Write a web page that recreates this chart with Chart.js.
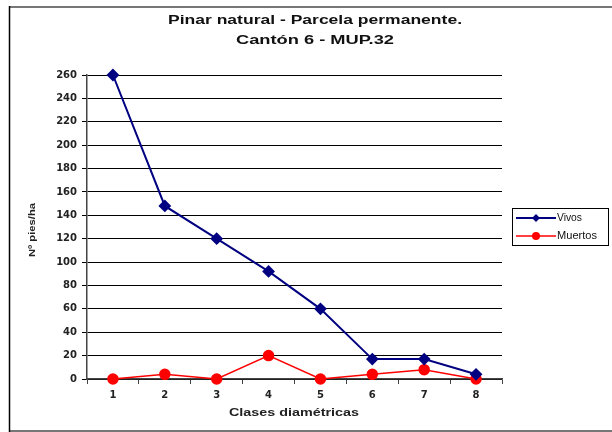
<!DOCTYPE html>
<html>
<head>
<meta charset="utf-8">
<script src="https://cdn.jsdelivr.net/npm/chart.js@4"></script>
<style>
  html, body { margin: 0; padding: 0; background: #fff; }
  #wrap { width: 612px; height: 432px; }
</style>
</head>
<body>
<div id="wrap"><canvas id="grafico" width="612" height="432"></canvas></div>
<script>
const clases = ["1", "2", "3", "4", "5", "6", "7", "8"];
const vivos = [260, 148, 120, 92, 60, 17, 17, 4];
const muertos = [0, 4, 0, 20, 0, 4, 8, 0];
const titulo = ["Pinar natural - Parcela permanente.", "Cantón 6 - MUP.32"];
const tituloX = "Clases diamétricas";
const tituloY = "Nº pies/ha";
const fuente = "'Liberation Sans', Arial, sans-serif";
const fuenteTicks = "'DejaVu Sans', Verdana, sans-serif";

// texto ensanchado como en el original
function texto(c, t, x, y, ancho, rot) {
  c.save();
  c.translate(x, y);
  if (rot) c.rotate(-Math.PI / 2);
  const w = c.measureText(t).width;
  c.scale(ancho / w, 1);
  c.fillText(t, 0, 0);
  c.restore();
}

// marco, titulos y leyenda
const extras = {
  id: "extras",
  afterDraw(chart) {
    const c = chart.ctx;
    c.save();
    // marco
    c.strokeStyle = "#777";
    c.lineWidth = 2;
    c.beginPath();
    c.moveTo(9, 7); c.lineTo(612, 7);
    c.moveTo(9, 431); c.lineTo(612, 431);
    c.stroke();
    c.strokeStyle = "#000";
    c.lineWidth = 1.5;
    c.beginPath();
    c.moveTo(9.5, 6); c.lineTo(9.5, 432);
    c.stroke();

    // titulo
    c.fillStyle = "#111";
    c.font = "bold 12px " + fuente;
    c.textAlign = "center";
    c.textBaseline = "middle";
    texto(c, titulo[0], 315, 21, 294);
    texto(c, titulo[1], 315, 41, 158);

    // titulos de ejes
    c.fillStyle = "#222";
    c.font = "bold 11px " + fuente;
    texto(c, tituloX, 294, 413, 130);
    c.font = "bold 9px " + fuente;
    texto(c, tituloY, 33, 230, 54, true);

    // leyenda
    c.strokeStyle = "#000";
    c.lineWidth = 1;
    c.strokeRect(512.5, 208.5, 96, 37);
    c.font = "10px " + fuente;
    c.textAlign = "left";
    chart.data.datasets.forEach((ds, i) => {
      const y = 218 + i * 18;
      c.strokeStyle = ds.borderColor;
      c.lineWidth = ds.borderWidth;
      c.beginPath();
      c.moveTo(516, y); c.lineTo(556, y);
      c.stroke();
      c.fillStyle = ds.pointBackgroundColor;
      c.beginPath();
      if (ds.pointStyle === "rectRot") {
        c.moveTo(536, y - 4); c.lineTo(540, y); c.lineTo(536, y + 4); c.lineTo(532, y);
      } else {
        c.arc(536, y, 4, 0, Math.PI * 2);
      }
      c.fill();
      c.fillStyle = "#111";
      texto(c, ds.label, 557, y, i === 0 ? 25 : 40);
    });
    c.restore();
  }
};

new Chart(document.getElementById("grafico"), {
  type: "line",
  data: {
    labels: clases,
    datasets: [
      {
        label: "Vivos",
        data: vivos,
        borderColor: "#000080",
        backgroundColor: "#000080",
        pointBackgroundColor: "#000080",
        pointBorderColor: "#000080",
        borderWidth: 2,
        pointStyle: "rectRot",
        pointRadius: 5,
        tension: 0,
        clip: false
      },
      {
        label: "Muertos",
        data: muertos,
        borderColor: "#ff0000",
        backgroundColor: "#ff0000",
        pointBackgroundColor: "#ff0000",
        pointBorderColor: "#ff0000",
        borderWidth: 1.5,
        pointStyle: "circle",
        pointRadius: 5,
        tension: 0,
        clip: false
      }
    ]
  },
  options: {
    responsive: false,
    animation: false,
    layout: { padding: { left: 28, right: 110, top: 75, bottom: 12 } },
    plugins: {
      legend: { display: false },
      tooltip: { enabled: false }
    },
    scales: {
      x: {
        offset: true,
        grid: { offset: true, drawOnChartArea: false, drawTicks: true, tickLength: 5, color: "#444" },
        border: { color: "#444", width: 1.5 },
        ticks: { color: "#222", font: { family: fuenteTicks, size: 10, weight: "bold" }, padding: 5 },
        afterFit(s) { s.height = 41; }
      },
      y: {
        min: 0,
        max: 260,
        ticks: { stepSize: 20, color: "#222", font: { family: fuenteTicks, size: 10, weight: "bold" }, padding: 5 },
        grid: { color: "#000", tickLength: 5, lineWidth: 1 },
        border: { color: "#444", width: 1.5 },
        afterFit(s) { s.width = 59; }
      }
    }
  },
  plugins: [extras]
});
</script>
</body>
</html>
